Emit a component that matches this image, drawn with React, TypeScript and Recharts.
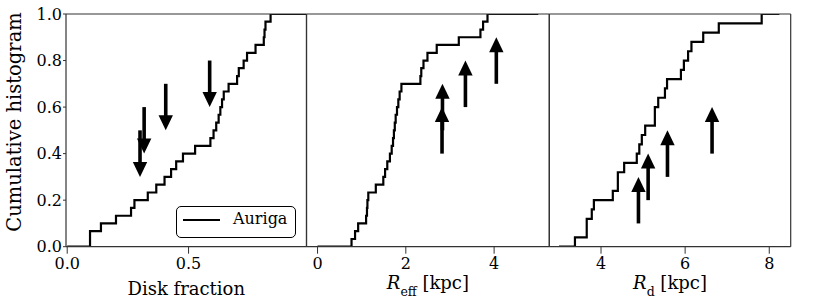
import React from 'react';
import { LineChart, Line, XAxis, YAxis, ReferenceLine, Legend } from 'recharts';

// ---- data ----
const diskX = [0, 0.094, 0.139, 0.201, 0.263, 0.277, 0.332, 0.367, 0.401, 0.428, 0.449, 0.477, 0.527, 0.59, 0.603, 0.614, 0.624, 0.631, 0.638, 0.645, 0.665, 0.7, 0.707, 0.727, 0.741, 0.776, 0.81, 0.813, 0.817, 0.838, 0.986];
const diskY = [0, 0.067, 0.1, 0.133, 0.167, 0.2, 0.233, 0.267, 0.3, 0.333, 0.367, 0.4, 0.433, 0.467, 0.5, 0.533, 0.567, 0.6, 0.633, 0.667, 0.7, 0.733, 0.767, 0.8, 0.833, 0.867, 0.9, 0.933, 0.967, 1.0, 1.0];

const reffX = [0, 0.77, 0.85, 0.92, 1.1, 1.12, 1.13, 1.15, 1.32, 1.49, 1.53, 1.58, 1.64, 1.68, 1.71, 1.73, 1.75, 1.77, 1.8, 1.83, 1.86, 1.9, 2.33, 2.35, 2.4, 2.49, 2.7, 3.2, 3.69, 3.75, 3.85, 5.0];
const reffY = [0, 0.033, 0.067, 0.1, 0.133, 0.167, 0.2, 0.233, 0.267, 0.3, 0.333, 0.367, 0.4, 0.433, 0.467, 0.5, 0.533, 0.567, 0.6, 0.633, 0.667, 0.7, 0.733, 0.767, 0.8, 0.833, 0.867, 0.9, 0.933, 0.967, 1.0, 1.0];

const rdX = [3.0, 3.38, 3.66, 3.78, 3.83, 4.28, 4.4, 4.55, 4.85, 4.91, 4.97, 5.05, 5.28, 5.36, 5.52, 5.57, 5.9, 5.97, 6.07, 6.15, 6.43, 6.8, 7.82, 8.24];
const rdY = [0, 0.04, 0.12, 0.16, 0.2, 0.24, 0.32, 0.36, 0.4, 0.44, 0.48, 0.52, 0.6, 0.64, 0.68, 0.72, 0.76, 0.8, 0.84, 0.88, 0.92, 0.96, 1.0, 1.0];

// arrows: x position, tail value, tip value
const diskArrowX = [0.3, 0.317, 0.406, 0.587];
const diskArrowFrom = [0.5, 0.6, 0.7, 0.8];
const diskArrowTo = [0.3, 0.4, 0.5, 0.6];

const reffArrowX = [2.82, 2.83, 3.35, 4.05];
const reffArrowFrom = [0.4, 0.5, 0.6, 0.7];
const reffArrowTo = [0.6, 0.7, 0.8, 0.9];

const rdArrowX = [4.89, 5.12, 5.58, 6.64];
const rdArrowFrom = [0.1, 0.2, 0.3, 0.4];
const rdArrowTo = [0.3, 0.4, 0.5, 0.6];

const yTicks = [0, 0.2, 0.4, 0.6, 0.8, 1.0];
const diskTicks = [0, 0.5];
const reffTicks = [0, 2, 4];
const rdTicks = [4, 6, 8];

const seriesName = 'Auriga';

// ---- layout ----
const FONT = 'DejaVu Serif';
const W = 814;
const H = 301;
const TOP = 14;
const BOTTOM = 246.7;
const FRAME = '#333';

function Arrow(props: any) {
  const { x1, y1, x2, y2 } = props;
  const dx = x2 - x1;
  const dy = y2 - y1;
  const len = Math.hypot(dx, dy) || 1;
  const ux = dx / len;
  const uy = dy / len;
  const hl = 15;
  const hw = 7.2;
  const bx = x2 - ux * hl;
  const by = y2 - uy * hl;
  const px = -uy;
  const py = ux;
  return (
    <g>
      <line x1={x1} y1={y1} x2={bx + ux * 2} y2={by + uy * 2} stroke="#000" strokeWidth={3.6} />
      <polygon
        points={`${x2},${y2} ${bx + px * hw},${by + py * hw} ${bx - px * hw},${by - py * hw}`}
        fill="#000"
      />
    </g>
  );
}

function LegendBox(props: any) {
  const payload = props.payload || [];
  return (
    <div
      style={{
        boxSizing: 'border-box',
        width: 120,
        height: 32,
        border: '1px solid #000',
        borderRadius: 5,
        background: '#fff',
        position: 'relative',
        fontFamily: FONT,
      }}
    >
      {payload.map((e: any, i: number) => (
        <React.Fragment key={i}>
          <svg width={40} height={4} style={{ position: 'absolute', left: 6, top: 11.5 }}>
            <line x1={0} y1={2} x2={37} y2={2} stroke="#000" strokeWidth={2} />
          </svg>
          <span style={{ position: 'absolute', left: 56, top: 4.5, fontSize: 16, lineHeight: '16px', color: '#000', whiteSpace: 'nowrap' }}>
            {e.value}
          </span>
        </React.Fragment>
      ))}
    </div>
  );
}

type PanelProps = {
  xs: number[];
  ys: number[];
  domain: [number, number];
  ticks: number[];
  left: number;
  right: number;
  ax: number[];
  aFrom: number[];
  aTo: number[];
  xLabel: (cx: number) => React.ReactNode;
  first?: boolean;
  last?: boolean;
};

function Panel({ xs, ys, domain, ticks, left, right, ax, aFrom, aTo, xLabel, first, last }: PanelProps) {
  const data = xs.map((x, i) => ({ x, y: ys[i] }));
  const wl = first ? left : 10;
  const margin = { top: TOP - 10, bottom: H - BOTTOM - 50, left: left - wl, right: W - right - 10 };
  const cx = (left + right) / 2;
  const axisLine = { stroke: FRAME, strokeWidth: 1.2 };
  const tickLine = { stroke: FRAME, strokeWidth: 1 };
  return (
    <div style={{ position: 'absolute', left: 0, top: 0 }}>
      <LineChart width={W} height={H} data={data} margin={margin}>
        <XAxis
          xAxisId="b"
          dataKey="x"
          type="number"
          domain={domain}
          ticks={ticks}
          allowDataOverflow
          interval={0}
          height={50}
          tickSize={7}
          tickMargin={4}
          axisLine={axisLine}
          tickLine={tickLine}
          tick={{ fontFamily: FONT, fontSize: 16, fill: '#000' }}
          tickFormatter={(v: number) => (first ? v.toFixed(1) : String(v))}
          label={() => xLabel(cx)}
        />
        <XAxis
          xAxisId="t"
          orientation="top"
          dataKey="x"
          type="number"
          domain={domain}
          ticks={ticks}
          allowDataOverflow
          interval={0}
          height={10}
          tickSize={7}
          axisLine={axisLine}
          tickLine={tickLine}
          tick={false}
        />
        <YAxis
          yAxisId="l"
          dataKey="y"
          type="number"
          domain={[0, 1]}
          ticks={yTicks}
          allowDataOverflow
          interval={0}
          width={wl}
          tickSize={first ? 3 : 6}
          tickMargin={first ? 1 : 0}
          axisLine={axisLine}
          tickLine={tickLine}
          tick={first ? { fontFamily: FONT, fontSize: 16, fill: '#000' } : false}
          tickFormatter={(v: number) => v.toFixed(1)}
          label={
            first
              ? () => (
                  <text
                    x={21}
                    y={122}
                    transform="rotate(-90, 21, 122)"
                    textAnchor="middle"
                    fontFamily={FONT}
                    fontSize={19.5}
                    fill="#000"
                  >
                    Cumulative histogram
                  </text>
                )
              : undefined
          }
        />
        <YAxis
          yAxisId="r"
          orientation="right"
          dataKey="y"
          type="number"
          domain={[0, 1]}
          ticks={yTicks}
          allowDataOverflow
          interval={0}
          width={10}
          tickSize={4}
          axisLine={axisLine}
          tickLine={last ? tickLine : false}
          tick={false}
        />
        <Line
          xAxisId="b"
          yAxisId="l"
          type="stepAfter"
          dataKey="y"
          name={seriesName}
          stroke="#000"
          strokeWidth={2.2}
          dot={false}
          activeDot={false}
          isAnimationActive={false}
        />
        {ax.map((x, i) => (
          <ReferenceLine
            key={i}
            xAxisId="b"
            yAxisId="l"
            segment={[
              { x, y: aFrom[i] },
              { x, y: aTo[i] },
            ]}
            shape={(p: any) => <Arrow {...p} />}
          />
        ))}
        {first ? (
          <Legend
            layout="vertical"
            align="center"
            verticalAlign="middle"
            wrapperStyle={{ left: 176, top: 205.5, width: 120, height: 32 }}
            content={(p: any) => <LegendBox payload={p.payload} />}
          />
        ) : null}
      </LineChart>
    </div>
  );
}

export default function App() {
  return (
    <div style={{ position: 'absolute', left: 0, top: 0, width: W, height: H, background: '#fff' }}>
      <Panel
        xs={diskX}
        ys={diskY}
        domain={[-0.005, 0.986]}
        ticks={diskTicks}
        left={66}
        right={306.5}
        ax={diskArrowX}
        aFrom={diskArrowFrom}
        aTo={diskArrowTo}
        first
        xLabel={(cx) => (
          <text x={cx} y={295} textAnchor="middle" fontFamily={FONT} fontSize={18} fill="#000">
            Disk fraction
          </text>
        )}
      />
      <Panel
        xs={reffX}
        ys={reffY}
        domain={[-0.25, 5.25]}
        ticks={reffTicks}
        left={306.5}
        right={549.3}
        ax={reffArrowX}
        aFrom={reffArrowFrom}
        aTo={reffArrowTo}
        xLabel={(cx) => (
          <text x={cx} y={289} textAnchor="middle" fontFamily={FONT} fontSize={18} fill="#000">
            <tspan fontStyle="italic">R</tspan>
            <tspan fontSize={12.5} dy={6.5}>eff</tspan>
            <tspan dy={-6.5}> [kpc]</tspan>
          </text>
        )}
      />
      <Panel
        xs={rdX}
        ys={rdY}
        domain={[2.77, 8.51]}
        ticks={rdTicks}
        left={549.3}
        right={790.7}
        ax={rdArrowX}
        aFrom={rdArrowFrom}
        aTo={rdArrowTo}
        last
        xLabel={(cx) => (
          <text x={cx} y={289} textAnchor="middle" fontFamily={FONT} fontSize={18} fill="#000">
            <tspan fontStyle="italic">R</tspan>
            <tspan fontSize={12.5} dy={6.5}>d</tspan>
            <tspan dy={-6.5}> [kpc]</tspan>
          </text>
        )}
      />
    </div>
  );
}
